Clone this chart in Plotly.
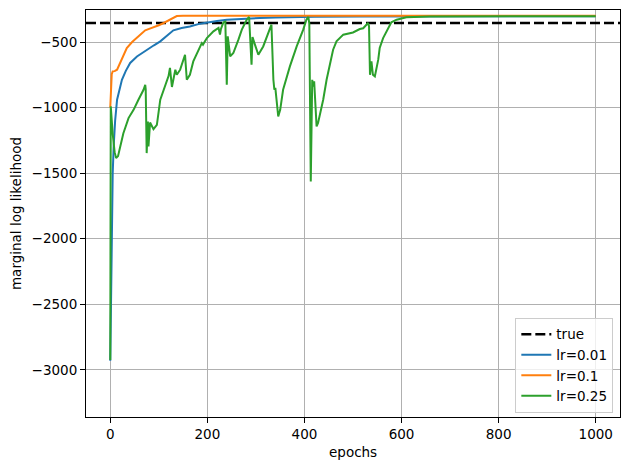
import plotly.graph_objects as go

true_value = -355

blue_epochs = [0, 2, 3.5, 5, 7, 10, 14, 19, 24, 32, 41, 55, 75, 90, 103, 117, 130, 147, 164, 185, 200, 220, 240, 270, 308, 340, 377, 420, 514, 650, 800, 1000]
blue_vals = [-2930, -2200, -1800, -1500, -1297, -1100, -940, -850, -788, -720, -660, -610, -559, -525, -495, -450, -411, -393, -381, -360, -350, -340, -330, -322, -317, -313, -310, -308, -305, -304, -303, -303]

orange_epochs = [0, 1, 3, 5, 9, 14, 20, 27, 34, 45, 58, 72, 80, 89, 100, 110, 122, 137, 150, 200, 400, 1000]
orange_vals = [-1000, -850, -745, -724, -722, -711, -660, -600, -546, -500, -455, -411, -400, -389, -372, -355, -330, -302, -300, -300, -300, -300]

green_epochs = [0, 1, 5, 9, 12, 16, 20.6, 27, 37.6, 48, 58, 68.5, 72, 73, 75, 77.5, 78.7, 82, 89, 96,
                103, 113, 120, 123, 127, 134, 137, 144, 150, 154, 157.6, 164, 171, 181.6, 188.5, 191, 199,
                212.5, 223, 226, 228, 233, 237, 240, 242, 247, 253.5, 264, 271, 281, 286, 291, 293, 298,
                305, 315, 329, 332, 336, 338, 340, 343, 346, 350, 356, 370, 384, 397.5, 404, 408, 410,
                413, 416, 418, 420, 425, 428, 438.6, 445.6, 459, 466, 480, 500, 514, 521, 531, 533, 535,
                538, 541, 545, 552, 555, 562, 572, 579, 590, 610, 658, 800, 1000]
green_vals = [-2925, -991, -1200, -1340, -1385, -1370, -1297, -1195, -1080, -1017, -940, -864, -826, -860, -1347, -1106, -1297, -1114, -1164, -1131,
              -940, -839, -760, -698, -843, -711, -750, -711, -640, -597, -788, -750, -648, -559, -508, -520, -470,
              -419, -393, -444, -400, -350, -345, -826, -457, -610, -584, -482, -406, -330, -309, -673, -462, -520,
              -597, -534, -406, -368, -788, -864, -850, -991, -1068, -1017, -864, -686, -534, -406, -330, -309, -360,
              -1564, -788, -839, -800, -1144, -1118, -940, -788, -559, -495, -444, -427, -401, -395, -355, -380, -750,
              -648, -750, -762, -635, -546, -470, -406, -350, -330, -312, -305, -303, -303]

x_ticks = [0, 200, 400, 600, 800, 1000]
y_ticks = [-3000, -2500, -2000, -1500, -1000, -500]

font = dict(family="DejaVu Sans", size=13.5, color="black")

fig = go.Figure()
fig.add_trace(go.Scatter(x=[-50, 1050], y=[true_value, true_value], mode="lines", name="true",
                         line=dict(color="black", width=2.6, dash="10px,4px")))
fig.add_trace(go.Scatter(x=blue_epochs, y=blue_vals, mode="lines", name="lr=0.01",
                         line=dict(color="#1f77b4", width=2)))
fig.add_trace(go.Scatter(x=orange_epochs, y=orange_vals, mode="lines", name="lr=0.1",
                         line=dict(color="#ff7f0e", width=2)))
fig.add_trace(go.Scatter(x=green_epochs, y=green_vals, mode="lines", name="lr=0.25",
                         line=dict(color="#2ca02c", width=2)))

axis_common = dict(showgrid=True, gridcolor="#b0b0b0", gridwidth=1.1, zeroline=False,
                   showline=True, linecolor="black", linewidth=1.1, mirror=True,
                   ticks="outside", ticklen=5, tickwidth=1.1, tickcolor="black",
                   tickfont=font, automargin=False)

# page body has an 8px margin; compensate so the plot area lands where the reference has it
fig.update_layout(
    width=622, height=462,
    margin=dict(l=78, r=10, t=2, b=53),
    paper_bgcolor="white", plot_bgcolor="white",
    font=font,
    showlegend=True,
    legend=dict(x=0.9875, y=0.01, xanchor="right", yanchor="bottom",
                bgcolor="rgba(255,255,255,0.8)", bordercolor="#cccccc", borderwidth=1,
                font=font, tracegroupgap=0),
    xaxis=dict(range=[-50, 1050], tickvals=x_ticks, **axis_common),
    yaxis=dict(range=[-3359, -256], tickvals=y_ticks, title=dict(text="marginal log likelihood", font=font, standoff=6), **axis_common),
    annotations=[dict(text="epochs", xref="paper", yref="paper", x=0.5, y=0,
                      xanchor="center", yanchor="middle", yshift=-35, showarrow=False, font=font)],
)

fig.write_html("out.html")
